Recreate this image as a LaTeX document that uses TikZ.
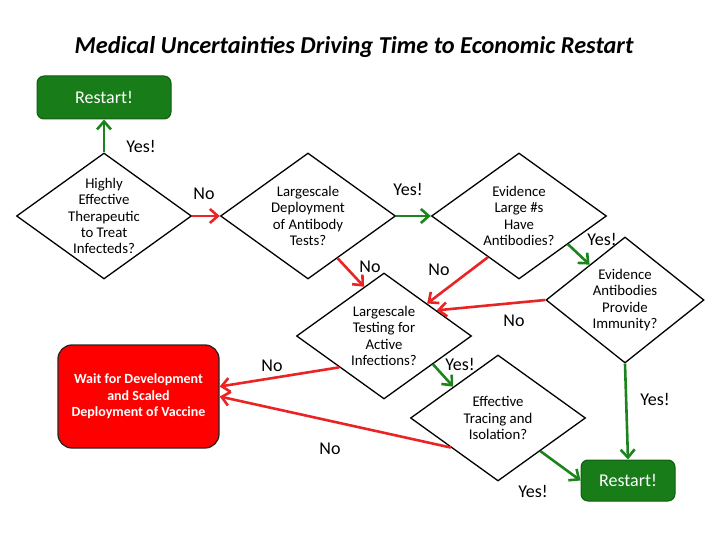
\documentclass[tikz,border=0pt]{standalone}
\usepackage{fontspec}
\setmainfont{Carlito}
\usetikzlibrary{shapes.geometric,arrows.meta}

\definecolor{yesgreen}{RGB}{28,132,28}
\definecolor{nored}{RGB}{234,36,36}
\definecolor{boxgreen}{RGB}{24,124,24}

\tikzset{
  question/.style={diamond, draw, line width=1.3pt, aspect=1.39,
    minimum width=175pt, minimum height=126pt, inner sep=-20pt,
    align=center, font=\fontsize{14.8}{16.3}\selectfont},
  yesarrow/.style={yesgreen, line width=2.6pt, -{Straight Barb[length=8pt,width=14pt]}},
  noarrow/.style={nored, line width=2.6pt, -{Straight Barb[length=8pt,width=14pt]}},
  answer/.style={font=\fontsize{18}{20}\selectfont},
  restartbox/.style={rectangle, rounded corners=7pt, fill=boxgreen,
    draw=boxgreen!75!black, line width=1pt, text=white,
    font=\fontsize{18}{20}\selectfont}
}

\begin{document}
\begin{tikzpicture}[x=1pt, y=-1pt]
  \useasboundingbox (0,0) rectangle (720,540);

  \node (title) at (354,47) {\fontsize{24.3}{27}\selectfont\bfseries\itshape
    Medical Uncertainties Driving Time to Economic Restart};

  % questions
  \node[question] (therapeutic) at (104,216) {Highly\\Effective\\Therapeutic\\to Treat\\Infecteds?};
  \node[question] (antitests) at (308,216) {Largescale\\Deployment\\of Antibody\\Tests?};
  \node[question] (largenum) at (519,216) {Evidence\\Large \#s\\Have\\Antibodies?};
  \node[question, minimum width=158pt, aspect=1.26] (immunity) at (625,300) {Evidence\\Antibodies\\Provide\\Immunity?};
  \node[question] (activetest) at (384,336) {Largescale\\Testing for\\Active\\Infections?};
  \node[question] (tracing) at (498,418) {Effective\\Tracing and\\Isolation?};

  % outcomes
  \node[restartbox, minimum width=134pt, minimum height=43pt] (restartA) at (104,97.5) {Restart!};
  \node[restartbox, minimum width=94pt, minimum height=41pt] (restartB) at (628,480.5) {Restart!};
  \node[rectangle, rounded corners=14pt, fill=red, draw=black!85, line width=1.3pt,
    minimum width=161pt, minimum height=103pt, text=white, align=center,
    font=\fontsize{14}{16.5}\selectfont\bfseries] (vaccine) at (138.5,396.5)
    {Wait for Development\\and Scaled\\Deployment of Vaccine};

  % connectors
  \draw[yesarrow] (therapeutic.north) -- (restartA.south);
  \draw[noarrow] (therapeutic.east) -- (antitests.west);
  \draw[yesarrow] (antitests.east) -- (largenum.west);
  \draw[noarrow] (antitests.-55) -- (activetest.112);
  \draw[yesarrow] (largenum.-30) -- (immunity.135);
  \draw[noarrow] (largenum.-127) -- (activetest.37);
  \draw[noarrow] (immunity.west) -- (activetest.26);
  \draw[yesarrow] (immunity.south) -- (restartB.north);
  \draw[noarrow] (activetest.-145) -- (vaccine.7);
  \draw[yesarrow] (activetest.-30) -- (tracing.145);
  \draw[noarrow] (tracing.-148) -- (vaccine.east);
  \draw[yesarrow] (tracing.-38) -- (restartB.west);

  % answers on the arrows
  \node[answer] (a1) at (141,146) {Yes!};
  \node[answer] (a2) at (204,194) {No};
  \node[answer] (a3) at (408,189) {Yes!};
  \node[answer] (a4) at (370,267) {No};
  \node[answer] (a5) at (439,270) {No};
  \node[answer] (a6) at (602,239) {Yes!};
  \node[answer] (a7) at (514,321) {No};
  \node[answer] (a8) at (272,366) {No};
  \node[answer] (a9) at (460,364) {Yes!};
  \node[answer] (a10) at (330,449) {No};
  \node[answer] (a11) at (533,491) {Yes!};
  \node[answer] (a12) at (655,399) {Yes!};
\end{tikzpicture}
\end{document}
